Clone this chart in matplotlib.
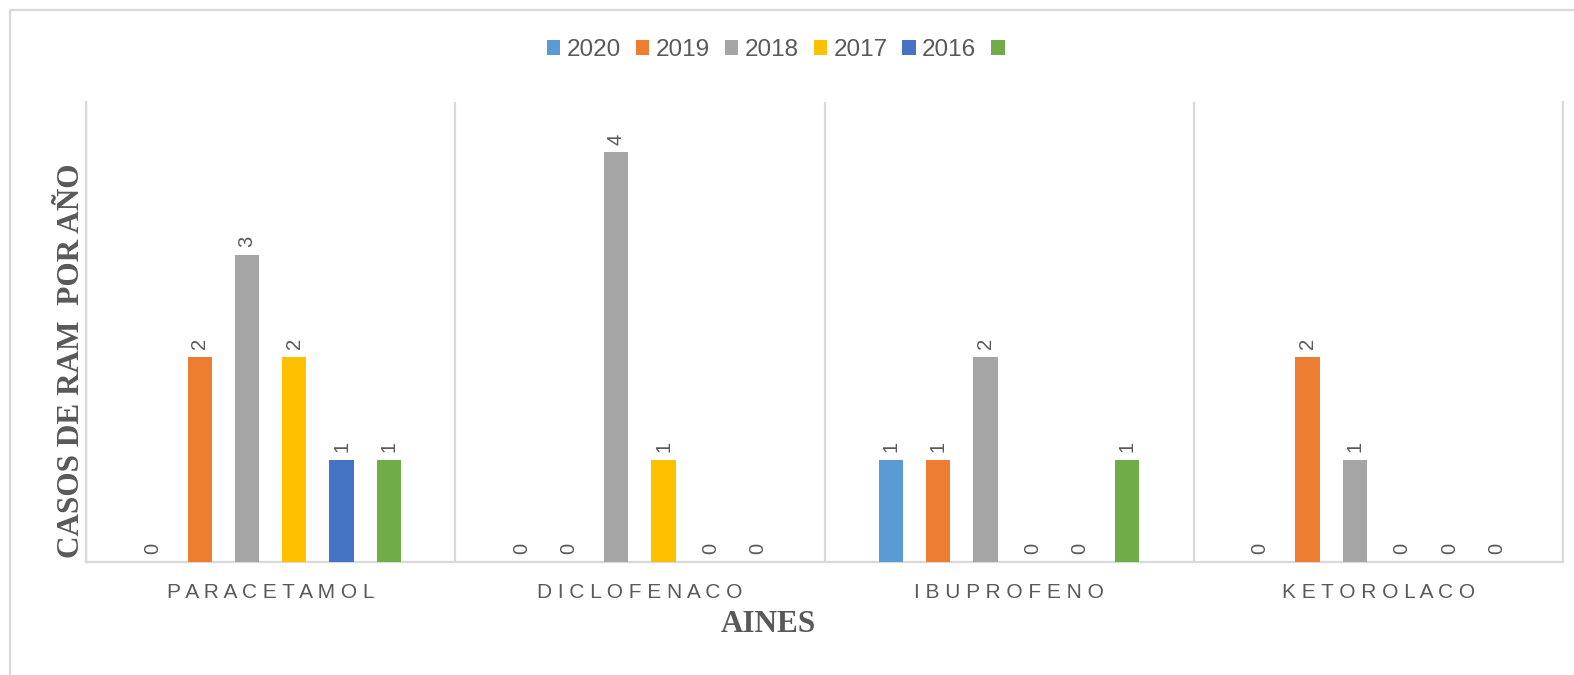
import numpy as np
import matplotlib
matplotlib.use("Agg")
import matplotlib.pyplot as plt
from matplotlib.patches import Rectangle

# ── Data ─────────────────────────────────────────────────────────────────────
drugs   = ["PARACETAMOL", "DICLOFENACO", "IBUPROFENO", "KETOROLACO"]
years   = ["2020", "2019", "2018", "2017", "2016", ""]
v_2020  = [0, 0, 1, 0]
v_2019  = [2, 0, 1, 2]
v_2018  = [3, 4, 2, 1]
v_2017  = [2, 1, 0, 0]
v_2016  = [1, 0, 0, 0]
v_extra = [1, 0, 1, 0]
series  = [v_2020, v_2019, v_2018, v_2017, v_2016, v_extra]

# ── Palette ──────────────────────────────────────────────────────────────────
colors    = ["#5B9BD5", "#ED7D31", "#A5A5A5", "#FFC000", "#4472C4", "#70AD47"]
_LINE_CLR = "#D9D9D9"
_TEXT_CLR = "#595959"

plt.rcParams.update({
    "font.family": ["Liberation Sans", "DejaVu Sans"],
    "figure.facecolor": "#ffffff",
})

fig = plt.figure(figsize=(15.74, 6.75), dpi=100)
ax = fig.add_axes([86 / 1574, 1 - 562 / 675, (1563 - 86) / 1574, (562 - 102) / 675])

# Outer frame of the chart area
fig.patches.append(Rectangle((10 / 1574, -0.05), 1.1, 1 - 10 / 675 + 0.05,
                             transform=fig.transFigure, fill=False,
                             edgecolor=_LINE_CLR, lw=1.6, zorder=0))

x = np.arange(len(drugs))
step, width = 0.128, 0.0654
handles = []
for i, (vals, clr) in enumerate(zip(series, colors)):
    bars = ax.bar(x + (i - 2.5) * step, vals, width, color=clr, zorder=3)
    ax.bar_label(bars, padding=5.5, rotation=90, fontsize=14.5, color=_TEXT_CLR)
    handles.append(bars)

# Category separators
for b in np.arange(-0.5, len(drugs), 1.0):
    ax.axvline(b, color=_LINE_CLR, lw=1.6, zorder=1)

ax.set_xlim(-0.5, len(drugs) - 0.5)
ax.set_ylim(0, 4.49)
ax.set_yticks([])
ax.set_xticks(x)
ax.set_xticklabels([" ".join(d) for d in drugs], fontsize=15, color=_TEXT_CLR)
ax.tick_params(axis="x", length=0, pad=15)
ax.spines["top"].set_visible(False)
for s in ["left", "right", "bottom"]:
    ax.spines[s].set_color(_LINE_CLR)
    ax.spines[s].set_linewidth(1.6)

fig.text(72 / 1574, 1 - 361 / 675, "CASOS DE RAM  POR AÑO", rotation=90,
         ha="center", va="center", fontsize=22.5, fontweight="bold",
         family="Liberation Serif", color=_TEXT_CLR)
fig.text(768 / 1574, 1 - 625 / 675, "AINES", ha="center", va="center",
         fontsize=22.5, fontweight="bold", family="Liberation Serif", color=_TEXT_CLR)

fig.legend(handles, years, loc="center", bbox_to_anchor=(779 / 1574, 1 - 50 / 675),
           ncol=6, frameon=False, fontsize=17.5, labelcolor=_TEXT_CLR,
           handlelength=0.55, handleheight=0.55, handletextpad=0.26,
           columnspacing=0.62)

fig.savefig("out.png", dpi=100)
